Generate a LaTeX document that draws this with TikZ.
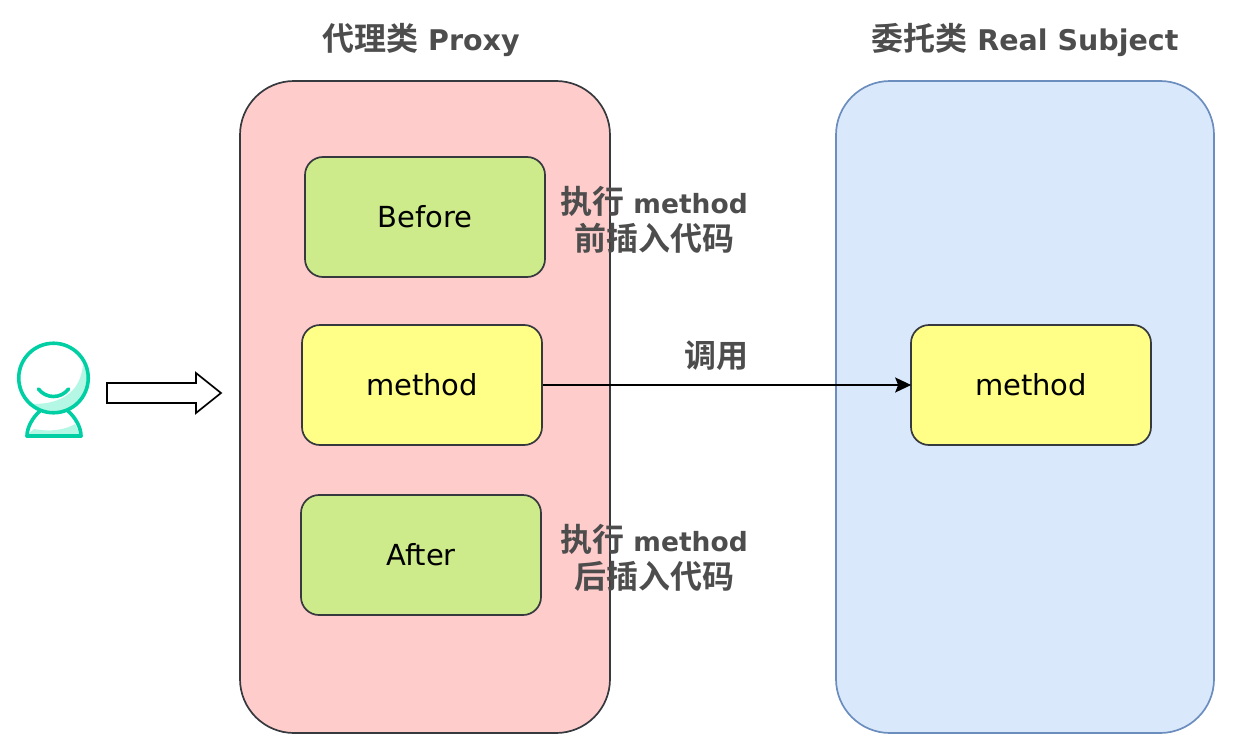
\documentclass[tikz,border=0pt]{standalone}
\usepackage{fontspec}
\usetikzlibrary{arrows.meta}
\setmainfont{DejaVu Sans}
\newfontfamily\cjk{Noto Sans CJK SC}[BoldFont={* Bold}]
\definecolor{pinkf}{HTML}{FFCCCC}
\definecolor{bluef}{HTML}{DAE8FC}
\definecolor{bluel}{HTML}{6C8EBF}
\definecolor{greenf}{HTML}{CDEB8B}
\definecolor{yellowf}{HTML}{FFFF88}
\definecolor{edgec}{HTML}{36393D}
\definecolor{labelc}{HTML}{4D4D4D}
\definecolor{teal1}{HTML}{00CFA3}
\definecolor{teal2}{HTML}{B5F7E5}
\tikzset{
 panel/.style={draw=edgec,line width=1.7pt,rounded corners=54pt,inner sep=0pt,minimum width=370pt,minimum height=652pt},
 inbox/.style={draw=edgec,line width=1.7pt,rounded corners=18pt,inner sep=0pt,minimum width=240pt,minimum height=120pt,font=\fontsize{29}{30}\selectfont,text=black},
 title/.style={font=\fontsize{28.5}{30}\bfseries\selectfont,text=labelc,inner sep=0pt},
 note/.style={font=\fontsize{26.5}{38}\bfseries\selectfont,text=labelc,inner sep=0pt,align=center},
 icon/.style={draw=teal1,line width=3.6pt,line join=round,line cap=round},
}
\newcommand{\zh}[1]{{\cjk\fontsize{32}{38}\selectfont #1}}
\begin{document}
\begin{tikzpicture}[x=1pt,y=-1pt]
\useasboundingbox (0,0) rectangle (1250,752);
\node[panel,fill=pinkf] (proxy) at (425,407) {};
\node[panel,fill=bluef,draw=bluel,minimum width=378pt] (real) at (1025,407) {};
\node[inbox,fill=greenf] (before) at (425,217) {\raisebox{-1pt}{Before}};
\node[inbox,fill=yellowf] (m1) at (422,385) {\raisebox{-1pt}{method}};
\node[inbox,fill=greenf] (after) at (421,555) {\raisebox{-1pt}{After}};
\node[inbox,fill=yellowf] (m2) at (1031,385) {\raisebox{-1pt}{method}};
\draw[line width=1.7pt,shorten >=-1pt,-{Stealth[length=16pt,width=15pt,inset=3pt]}] (m1) -- (m2);
\node[title] (t1) at (421,40) {\zh{代理类} Proxy};
\node[title] (t2) at (1025,40) {\zh{委托类} Real Subject};
\node[note] (n1) at (654,220) {\zh{执行} method\\[-1pt]\zh{前插入代码}};
\node[note] (n2) at (654,558) {\zh{执行} method\\[-1pt]\zh{后插入代码}};
\node[note] (n3) at (716,356) {\zh{调用}};
% person icon
\fill[teal2] (34,429) .. controls (50,432) and (65,430) .. (75,424) -- (80,435) -- (27,435) -- cycle;
\draw[icon] (27,436) .. controls (27,427) and (33,417) .. (40,411);
\draw[icon] (81,436) .. controls (81,427) and (75,417) .. (68,411);
\draw[icon] (27,436) -- (81,436);
\fill[teal2] (83,364) .. controls (81,390) and (64,404) .. (33,404) .. controls (42,412) and (62,414) .. (75,405) .. controls (87,396) and (91,378) .. (83,364) -- cycle;
\node[circle,icon,minimum size=69.5pt,inner sep=0pt] (head) at (53.5,378) {};
\draw[icon] (38.5,389) .. controls (46,399) and (61,399) .. (68.5,389);
\draw[line width=1.7pt,line join=miter,fill=white] (107,383) -- (196,383) -- (196,373) -- (221,393) -- (196,413) -- (196,403) -- (107,403) -- cycle;
\end{tikzpicture}
\end{document}
